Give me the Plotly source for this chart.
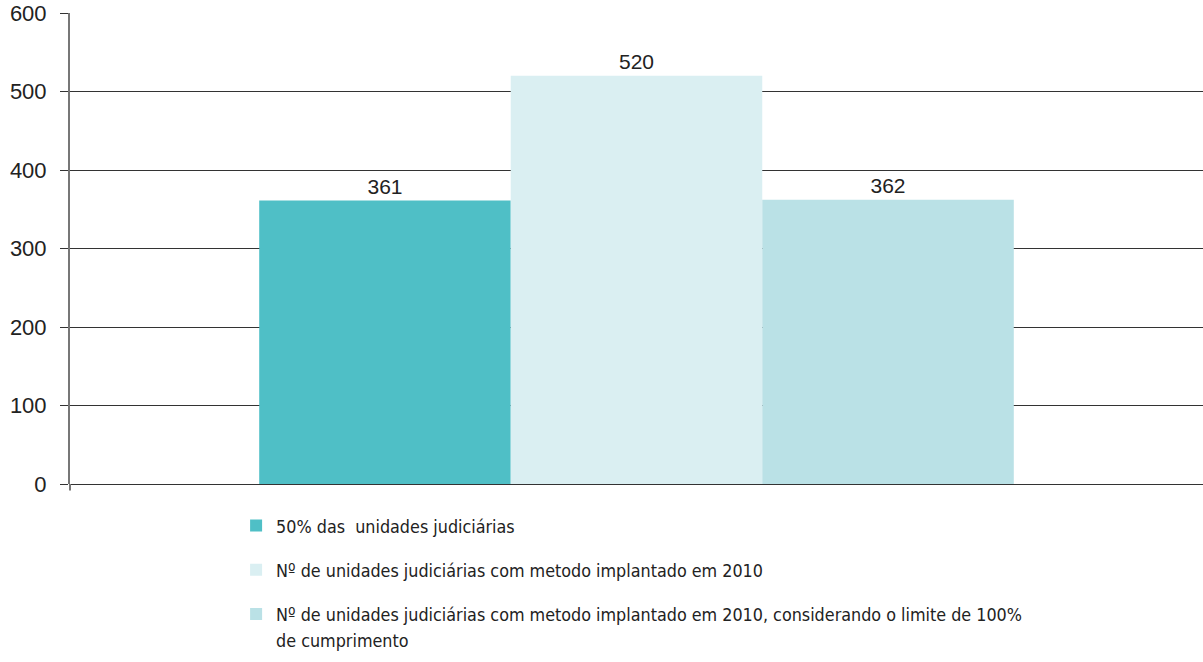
import plotly.graph_objects as go

categories = [""]
series_names = [
    "50% das  unidades judiciárias",
    "Nº de unidades judiciárias com metodo implantado em 2010",
    "Nº de unidades judiciárias com metodo implantado em 2010, considerando o limite de 100%",
]
legend_continuation = "de cumprimento"
series_values = [[361], [520], [362]]
colors = ["#4FBFC6", "#DAEFF2", "#BAE1E6"]
tick_vals = [0, 100, 200, 300, 400, 500, 600]

fig = go.Figure()
for i, (name, vals, col) in enumerate(zip(series_names, series_values, colors)):
    fig.add_trace(go.Bar(
        x=categories, y=vals, name=name, marker=dict(color=col, line=dict(width=0)),
        text=[str(v) for v in vals], textposition="outside",
        textfont=dict(family="Liberation Sans, Arial", size=21, color="#222"),
        cliponaxis=False, legendgroup=f"g{i}",
    ))
# continuation line of the third legend entry (no symbol)
fig.add_trace(go.Scatter(
    x=categories, y=[None], mode="markers", name=legend_continuation,
    marker=dict(color="rgba(0,0,0,0)", size=1), legendgroup="g2",
    hoverinfo="skip",
))

fig.update_layout(
    width=1203, height=662,
    margin=dict(l=70, r=0, t=13, b=178, autoexpand=False),
    paper_bgcolor="white", plot_bgcolor="white",
    barmode="group", bargap=0.334, bargroupgap=0,
    showlegend=True,
    legend=dict(
        x=0.1466, y=-0.05, xanchor="left", yanchor="top",
        orientation="v", traceorder="grouped",
        font=dict(family="DejaVu Sans Condensed, Liberation Sans, Arial", size=17.8, color="#222"),
        tracegroupgap=18, itemwidth=30,
        bgcolor="rgba(0,0,0,0)",
    ),
    xaxis=dict(showticklabels=False, showgrid=False, zeroline=False, showline=False, ticks=""),
    yaxis=dict(
        range=[0, 600], tickvals=tick_vals, ticktext=[str(v) for v in tick_vals],
        showgrid=True, gridcolor="#333", gridwidth=1,
        zeroline=True, zerolinecolor="#333", zerolinewidth=1,
        showline=True, linecolor="#777", linewidth=2,
        ticks="outside", ticklen=8, tickcolor="#333",
        tickfont=dict(family="Liberation Sans, Arial", size=22, color="#222"),
        ticklabelstandoff=9, automargin=False, ticklabeloverflow="allow",
    ),
    shapes=[dict(type="line", xref="paper", yref="paper", x0=0, x1=0, y0=-0.014, y1=0,
                 line=dict(color="#777", width=2))],
)
fig.write_html(
    "out.html",
    config={"displayModeBar": False},
    post_script="document.body.style.margin='0';document.body.style.overflow='hidden';",
)
